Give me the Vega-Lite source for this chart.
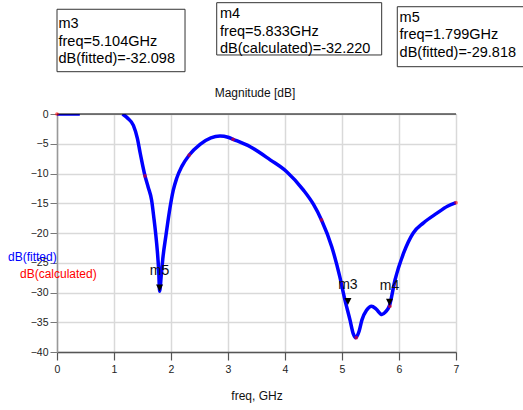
{
  "$schema": "https://vega.github.io/schema/vega-lite/v6.json",
  "width": 399,
  "height": 238,
  "autosize": {"type": "none"},
  "padding": {"left": 57, "top": 114, "right": 67, "bottom": 58},
  "background": "white",
  "config": {"view": {"stroke": "#777", "strokeWidth": 1}, "font": "Liberation Sans"},
  "datasets": {
    "fitted": [
      {"seg": "a", "freq": 0, "dB": 0}, {"seg": "a", "freq": 0.2, "dB": 0}, {"seg": "a", "freq": 0.4, "dB": 0},
      {"seg": "b", "freq": 1.15, "dB": 0}, {"seg": "b", "freq": 1.25, "dB": -0.8}, {"seg": "b", "freq": 1.34, "dB": -1.9},
      {"seg": "b", "freq": 1.41, "dB": -4.1}, {"seg": "b", "freq": 1.46, "dB": -6.6}, {"seg": "b", "freq": 1.5, "dB": -8.5},
      {"seg": "b", "freq": 1.544, "dB": -10.4}, {"seg": "b", "freq": 1.6, "dB": -12.3}, {"seg": "b", "freq": 1.66, "dB": -14.5},
      {"seg": "b", "freq": 1.7, "dB": -17.5}, {"seg": "b", "freq": 1.73, "dB": -20}, {"seg": "b", "freq": 1.76, "dB": -23},
      {"seg": "b", "freq": 1.785, "dB": -26.5}, {"seg": "b", "freq": 1.8, "dB": -29.8}, {"seg": "b", "freq": 1.83, "dB": -27},
      {"seg": "b", "freq": 1.86, "dB": -24}, {"seg": "b", "freq": 1.91, "dB": -20.5}, {"seg": "b", "freq": 1.97, "dB": -16.5},
      {"seg": "b", "freq": 2.04, "dB": -12.8}, {"seg": "b", "freq": 2.1, "dB": -10.8}, {"seg": "b", "freq": 2.19, "dB": -8.8},
      {"seg": "b", "freq": 2.32, "dB": -6.9}, {"seg": "b", "freq": 2.51, "dB": -5.1}, {"seg": "b", "freq": 2.7, "dB": -4.0},
      {"seg": "b", "freq": 2.86, "dB": -3.7}, {"seg": "b", "freq": 3.0, "dB": -3.9}, {"seg": "b", "freq": 3.09, "dB": -4.25},
      {"seg": "b", "freq": 3.39, "dB": -5.5}, {"seg": "b", "freq": 3.74, "dB": -7.7}, {"seg": "b", "freq": 4.03, "dB": -9.7},
      {"seg": "b", "freq": 4.32, "dB": -12.75}, {"seg": "b", "freq": 4.5, "dB": -15.2}, {"seg": "b", "freq": 4.64, "dB": -17.8},
      {"seg": "b", "freq": 4.82, "dB": -22.3}, {"seg": "b", "freq": 4.96, "dB": -27.3}, {"seg": "b", "freq": 5.05, "dB": -31.2},
      {"seg": "b", "freq": 5.14, "dB": -34.6}, {"seg": "b", "freq": 5.2, "dB": -37}, {"seg": "b", "freq": 5.24, "dB": -37.6},
      {"seg": "b", "freq": 5.3, "dB": -36.5}, {"seg": "b", "freq": 5.35, "dB": -34.6}, {"seg": "b", "freq": 5.43, "dB": -33.0},
      {"seg": "b", "freq": 5.52, "dB": -32.3}, {"seg": "b", "freq": 5.6, "dB": -32.8}, {"seg": "b", "freq": 5.7, "dB": -33.7},
      {"seg": "b", "freq": 5.76, "dB": -33.3}, {"seg": "b", "freq": 5.833, "dB": -32.2}, {"seg": "b", "freq": 5.93, "dB": -27.9},
      {"seg": "b", "freq": 6.08, "dB": -23.4}, {"seg": "b", "freq": 6.25, "dB": -20.0}, {"seg": "b", "freq": 6.43, "dB": -18.3},
      {"seg": "b", "freq": 6.66, "dB": -16.7}, {"seg": "b", "freq": 6.85, "dB": -15.5}, {"seg": "b", "freq": 7.0, "dB": -14.9}
    ],
    "calculated": [
      {"freq": 0, "dB": 0}, {"freq": 1.544, "dB": -10.4}, {"freq": 2.32, "dB": -6.9}, {"freq": 3.09, "dB": -4.25},
      {"freq": 4.64, "dB": -17.8}, {"freq": 5.25, "dB": -37.6}, {"freq": 5.84, "dB": -32.3}, {"freq": 7.0, "dB": -14.9}
    ],
    "markers": [
      {"name": "m5", "freq": 1.799, "dB": -29.818},
      {"name": "m3", "freq": 5.104, "dB": -32.098},
      {"name": "m4", "freq": 5.833, "dB": -32.22}
    ],
    "minorticks": [
      {"freq": 0.2}, {"freq": 0.4}, {"freq": 0.6}, {"freq": 0.8},
      {"freq": 1.2}, {"freq": 1.4}, {"freq": 1.6}, {"freq": 1.8},
      {"freq": 2.2}, {"freq": 2.4}, {"freq": 2.6}, {"freq": 2.8},
      {"freq": 3.2}, {"freq": 3.4}, {"freq": 3.6}, {"freq": 3.8},
      {"freq": 4.2}, {"freq": 4.4}, {"freq": 4.6}, {"freq": 4.8},
      {"freq": 5.2}, {"freq": 5.4}, {"freq": 5.6}, {"freq": 5.8},
      {"freq": 6.2}, {"freq": 6.4}, {"freq": 6.6}, {"freq": 6.8}
    ],
    "boxes": [
      {"name": "m3", "freq": 0, "freq2": 2.246, "dB": 17.6, "dB2": 7.11},
      {"name": "m4", "freq": 2.802, "freq2": 5.696, "dB": 18.71, "dB2": 9.92},
      {"name": "m5", "freq": 5.97, "freq2": 8.5, "dB": 18.03, "dB2": 7.95}
    ],
    "boxtext": [
      {"freq": 0.026, "dB": 14.4, "t": "m3"},
      {"freq": 0.026, "dB": 11.38, "t": "freq=5.104GHz"},
      {"freq": 0.026, "dB": 8.52, "t": "dB(fitted)=-32.098"},
      {"freq": 2.86, "dB": 16.08, "t": "m4"},
      {"freq": 2.86, "dB": 13.03, "t": "freq=5.833GHz"},
      {"freq": 2.86, "dB": 10.17, "t": "dB(calculated)=-32.220"},
      {"freq": 6.01, "dB": 15.51, "t": "m5"},
      {"freq": 6.01, "dB": 12.55, "t": "freq=1.799GHz"},
      {"freq": 6.01, "dB": 9.53, "t": "dB(fitted)=-29.818"}
    ],
    "legend": [
      {"freq": -0.86, "dB": -23.98, "t": "dB(fitted)", "c": "fitted"},
      {"freq": -0.649, "dB": -26.89, "t": "dB(calculated)", "c": "calculated"}
    ],
    "heading": [
      {"freq": 3.474, "dB": 2.94, "t": "Magnitude [dB]"}
    ]
  },
  "encoding": {
    "x": {
      "field": "freq", "type": "quantitative",
      "scale": {"domain": [0, 7], "nice": false, "zero": false},
      "title": "freq, GHz",
      "axis": {
        "values": [0, 1, 2, 3, 4, 5, 6, 7],
        "format": "d",
        "labelFlush": false,
        "labelFontSize": 10.5, "labelColor": "#222", "labelPadding": 4,
        "tickSize": 8, "tickColor": "#555", "tickWidth": 1.2,
        "domainColor": "#555", "domainWidth": 1.5,
        "grid": true, "gridColor": "#d9d9d9", "gridWidth": 1.5,
        "titleFontSize": 12, "titleFontWeight": "normal", "titleColor": "#111", "titlePadding": 16
      }
    },
    "y": {
      "field": "dB", "type": "quantitative",
      "scale": {"domain": [-40, 0], "nice": false, "zero": false},
      "title": null,
      "axis": {
        "values": [-40, -35, -30, -25, -20, -15, -10, -5, 0],
        "labelFontSize": 10.5, "labelColor": "#222", "labelPadding": 2,
        "tickSize": 7, "tickColor": "#777",
        "domainColor": "#999", "domainWidth": 1.5,
        "grid": true, "gridColor": "#d9d9d9", "gridWidth": 1.5
      }
    }
  },
  "layer": [
    {
      "data": {"name": "minorticks"},
      "mark": {"type": "rule", "color": "#555", "strokeWidth": 1.2},
      "encoding": {"y": {"datum": -40, "type": "quantitative"}, "y2": {"datum": -40.85}}
    },
    {
      "data": {"name": "fitted"},
      "mark": {"type": "line", "color": "#0000ff", "strokeWidth": 3.5, "interpolate": "monotone", "clip": true},
      "encoding": {"detail": {"field": "seg", "type": "nominal"}}
    },
    {
      "data": {"values": [{"freq": 0, "dB": 0}]},
      "mark": {"type": "rule", "color": "black", "strokeWidth": 1.2},
      "encoding": {"x": null, "y": {"datum": 0, "type": "quantitative"}}
    },
    {
      "data": {"name": "calculated"},
      "mark": {"type": "point", "filled": true, "color": "#ff0000", "size": 14, "opacity": 0.6}
    },
    {
      "data": {"name": "markers"},
      "mark": {"type": "point", "shape": "M -1 -2 L 1 -2 L 0 0 Z", "filled": true, "color": "black", "size": 49, "opacity": 1}
    },
    {
      "data": {"name": "markers"},
      "mark": {"type": "text", "fontSize": 14, "color": "#111", "align": "center", "baseline": "alphabetic", "dy": -16},
      "encoding": {"text": {"field": "name"}}
    },
    {
      "data": {"name": "legend"},
      "mark": {"type": "text", "fontSize": 12, "align": "left", "baseline": "middle"},
      "encoding": {
        "text": {"field": "t"},
        "color": {"field": "c", "type": "nominal", "scale": {"domain": ["fitted", "calculated"], "range": ["#0000ff", "#ff0000"]}, "legend": null}
      }
    },
    {
      "data": {"name": "heading"},
      "mark": {"type": "text", "fontSize": 12, "align": "center", "baseline": "alphabetic", "color": "#111"},
      "encoding": {"text": {"field": "t"}}
    },
    {
      "data": {"name": "boxes"},
      "mark": {"type": "rect", "fill": "white", "stroke": "#333", "strokeWidth": 1},
      "encoding": {"x2": {"field": "freq2"}, "y2": {"field": "dB2"}}
    },
    {
      "data": {"name": "boxtext"},
      "mark": {"type": "text", "fontSize": 14.5, "align": "left", "baseline": "alphabetic", "color": "#000"},
      "encoding": {"text": {"field": "t"}}
    }
  ]
}
